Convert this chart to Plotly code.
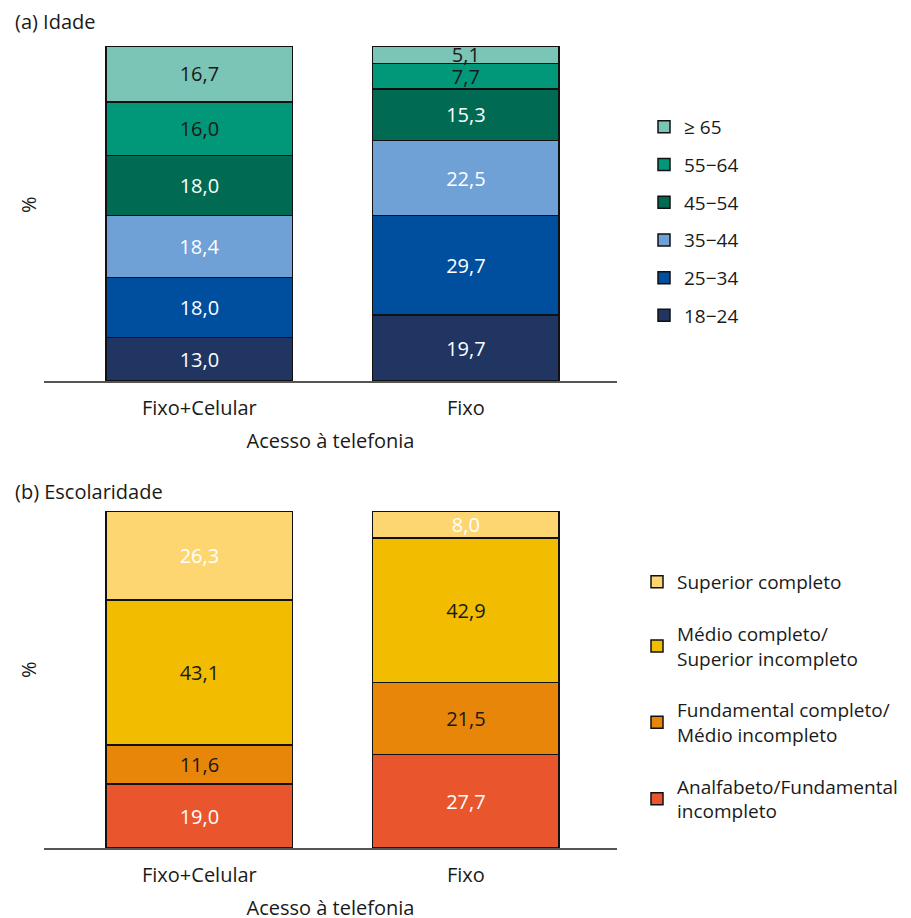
import plotly.graph_objects as go

categories = ["Fixo+Celular", "Fixo"]

age_groups = ["18\u221224", "25\u221234", "35\u221244", "45\u221254", "55\u221264", "\u2265 65"]
age_values = {
    "18\u221224": [13.0, 19.7],
    "25\u221234": [18.0, 29.7],
    "35\u221244": [18.4, 22.5],
    "45\u221254": [18.0, 15.3],
    "55\u221264": [16.0, 7.7],
    "\u2265 65": [16.7, 5.1],
}
age_colors = ["#213563", "#004F9F", "#6FA0D6", "#006B52", "#009878", "#7AC5B5"]
age_text_colors = [["white", "white"], ["white", "white"], ["white", "white"],
                   ["white", "white"], ["#1a1a1a", "#1a1a1a"], ["#1a1a1a", "#1a1a1a"]]

edu_groups = ["Analfabeto/Fundamental<br>incompleto", "Fundamental completo/<br>M\u00e9dio incompleto",
              "M\u00e9dio completo/<br>Superior incompleto", "Superior completo"]
edu_values = {
    edu_groups[0]: [19.0, 27.7],
    edu_groups[1]: [11.6, 21.5],
    edu_groups[2]: [43.1, 42.9],
    edu_groups[3]: [26.3, 8.0],
}
edu_colors = ["#E9562D", "#E8860A", "#F2BC00", "#FDD672"]
edu_text_colors = [["white", "white"], ["#1a1a1a", "#1a1a1a"], ["#1a1a1a", "#1a1a1a"], ["white", "white"]]

FONT = "Open Sans"
FS = 20
LFS = 19
OFF = 8  # page body margin

def fmt(v):
    return f"{v:.1f}".replace(".", ",")

fig = go.Figure()

for i, g in enumerate(age_groups):
    vals = age_values[g]
    fig.add_trace(go.Bar(
        x=categories, y=vals, name=g, xaxis="x", yaxis="y",
        marker=dict(color=age_colors[i], line=dict(color="#111111", width=1.5)),
        text=[fmt(v) for v in vals], textposition="inside", insidetextanchor="middle",
        textangle=0, constraintext="none",
        textfont=dict(family=FONT, size=FS, color=age_text_colors[i]),
        width=0.7, legend="legend", legendgroup=f"a{i}", legendrank=100 - i, hoverinfo="skip",
    ))

for i, g in enumerate(edu_groups):
    vals = edu_values[g]
    fig.add_trace(go.Bar(
        x=categories, y=vals, name=g, xaxis="x2", yaxis="y2",
        marker=dict(color=edu_colors[i], line=dict(color="#111111", width=1.5)),
        text=[fmt(v) for v in vals], textposition="inside", insidetextanchor="middle",
        textangle=0, constraintext="none",
        textfont=dict(family=FONT, size=FS, color=edu_text_colors[i]),
        width=0.7, legend="legend2", legendgroup=f"b{i}", legendrank=100 - i, hoverinfo="skip",
    ))

W, H = 911, 918

def px(p):
    return (p - OFF) / W

def py(p):
    return 1 - (p - OFF) / H

xdom = [px(44), px(617)]
xrange = [-0.583, 1.567]

axis_x = dict(domain=xdom, range=xrange, showline=True, linecolor="#555555", linewidth=2,
              ticks="", showgrid=False, zeroline=False, ticklabelstandoff=8,
              tickfont=dict(family=FONT, size=FS, color="#1a1a1a"),
              title=dict(text="Acesso \u00e0 telefonia", font=dict(family=FONT, size=FS, color="#1a1a1a"),
                         standoff=14))

fig.update_layout(
    width=W, height=H, barmode="stack",
    plot_bgcolor="white", paper_bgcolor="white",
    margin=dict(l=0, r=0, t=0, b=0),
    font=dict(family=FONT, size=FS, color="#1a1a1a"),
    xaxis=dict(axis_x, anchor="y"),
    xaxis2=dict(axis_x, anchor="y2"),
    yaxis=dict(domain=[py(381), py(46)], range=[0, 100.1], showticklabels=False,
               showgrid=False, zeroline=False, showline=False, anchor="x"),
    yaxis2=dict(domain=[py(848), py(511)], range=[0, 100.1], showticklabels=False,
                showgrid=False, zeroline=False, showline=False, anchor="x2"),
    legend=dict(x=px(644), y=py(108), xanchor="left", yanchor="top",
                traceorder="grouped", tracegroupgap=10,
                font=dict(family=FONT, size=LFS, color="#1a1a1a"), bgcolor="rgba(0,0,0,0)"),
    legend2=dict(x=px(637), y=py(563), xanchor="left", yanchor="top",
                 traceorder="grouped", tracegroupgap=24,
                 font=dict(family=FONT, size=LFS, color="#1a1a1a"), bgcolor="rgba(0,0,0,0)"),
    annotations=[
        dict(text="(a) Idade", x=px(13), y=py(22), xref="paper", yref="paper",
             xanchor="left", yanchor="middle", showarrow=False, font=dict(family=FONT, size=FS)),
        dict(text="(b) Escolaridade", x=px(13), y=py(491), xref="paper", yref="paper",
             xanchor="left", yanchor="middle", showarrow=False, font=dict(family=FONT, size=FS)),
        dict(text="%", x=px(28), y=py(205), xref="paper", yref="paper", textangle=-90,
             xanchor="center", yanchor="middle", showarrow=False, font=dict(family=FONT, size=FS)),
        dict(text="%", x=px(28), y=py(670), xref="paper", yref="paper", textangle=-90,
             xanchor="center", yanchor="middle", showarrow=False, font=dict(family=FONT, size=FS)),
    ],
)

fig.write_html("out.html")
